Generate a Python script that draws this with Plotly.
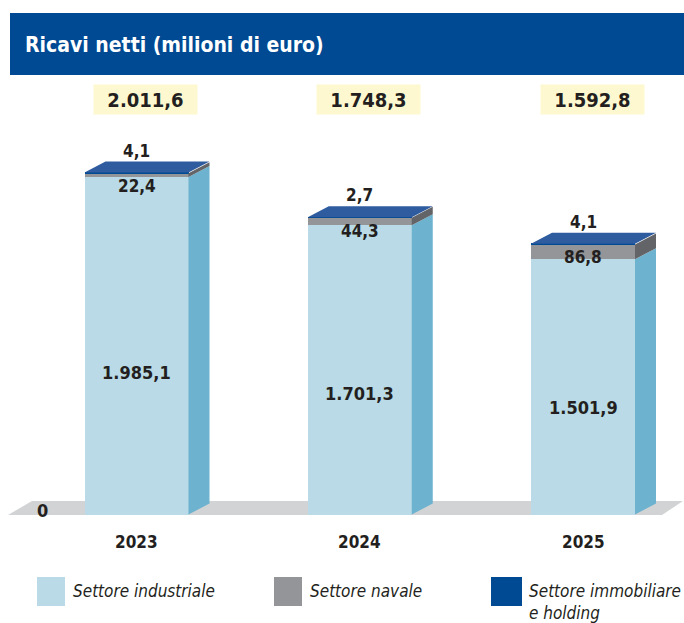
import plotly.graph_objects as go

# ---------------- data ----------------
anni = ["2023", "2024", "2025"]
industriale = [1985.1, 1701.3, 1501.9]
navale = [22.4, 44.3, 86.8]
immobiliare = [4.1, 2.7, 4.1]
totali = [2011.6, 1748.3, 1592.8]
serie_nomi = ["Settore industriale", "Settore navale", "Settore immobiliare<br>e holding"]
titolo = "Ricavi netti (milioni di euro)"

# ---------------- style ----------------
FONT = "Liberation Sans Narrow, Arial Narrow, DejaVu Sans Condensed, sans-serif"
TXT = "#231F20"
LB_FRONT, LB_SIDE = "#B9DAE6", "#6DB3CF"
GR_FRONT, GR_SIDE = "#939598", "#636467"
BL_FRONT, BL_SIDE, BL_TOP = "#004A93", "#003B7A", "#2F5C9F"
FLOOR = "#D1D3D4"
BOX = "#FEF8D0"

W, H = 684, 623
OFF = 0             # page body margin removed by post script
S = 0.17            # pixels per unit (value axis)
ZERO_F = 514.5 - OFF
XC0, XSTEP = 136.5 - OFF, 223.25
xmin, xmax = -XC0 / XSTEP, (W - XC0) / XSTEP
ymax, ymin = ZERO_F / S, -(H - ZERO_F) / S
BAR_W = 104 / XSTEP
DX = 21 / XSTEP
DY = 11 / S


def px2x(px):
    return xmin + (px - OFF) / W * (xmax - xmin)


def px2y(py):
    return ymax - (py - OFF) / H * (ymax - ymin)


def pxp(px):  # page pixel x -> paper
    return (px - OFF) / W


def pyp(py):  # page pixel y -> paper
    return 1 - (py - OFF) / H


def fmt(v):
    s = f"{v:,.1f}"
    return s.replace(",", "X").replace(".", ",").replace("X", ".")


xs = list(range(len(anni)))
fig = go.Figure()

# front faces (stacked bars)
for vals, col in [(industriale, LB_FRONT), (navale, GR_FRONT), (immobiliare, BL_FRONT)]:
    fig.add_trace(go.Bar(x=xs, y=vals, width=BAR_W, marker=dict(color=col, line=dict(width=0)),
                         showlegend=False, hoverinfo="skip"))

# side and top faces computed from data
side_x = {LB_SIDE: [], GR_SIDE: [], BL_SIDE: []}
side_y = {LB_SIDE: [], GR_SIDE: [], BL_SIDE: []}
top_x, top_y = [], []
for i in xs:
    base = 0.0
    xr = i + BAR_W / 2
    xl = i - BAR_W / 2
    for v, col in [(industriale[i], LB_SIDE), (navale[i], GR_SIDE), (immobiliare[i], BL_SIDE)]:
        b0, b1 = base, base + v
        side_x[col] += [xr, xr + DX, xr + DX, xr, xr, None]
        side_y[col] += [b0, b0 + DY, b1 + DY, b1, b0, None]
        base = b1
    top_x += [xl, xl + DX, xr + DX, xr, xl, None]
    top_y += [base, base + DY, base + DY, base, base, None]

for col in [LB_SIDE, GR_SIDE, BL_SIDE]:
    fig.add_trace(go.Scatter(x=side_x[col], y=side_y[col], mode="lines", fill="toself",
                             fillcolor=col, line=dict(width=0, color=col),
                             showlegend=False, hoverinfo="skip"))
fig.add_trace(go.Scatter(x=top_x, y=top_y, mode="lines", fill="toself", fillcolor=BL_TOP,
                         line=dict(width=0, color=BL_TOP), showlegend=False, hoverinfo="skip"))

shapes = []
# floor
fl = [(8, 515), (662, 515), (683, 501), (32, 501)]
path = "M " + " L ".join(f"{px2x(a)},{px2y(b)}" for a, b in fl) + " Z"
shapes.append(dict(type="path", path=path, xref="x", yref="y", fillcolor=FLOOR,
                   line=dict(width=0), layer="below"))
# title bar
shapes.append(dict(type="rect", xref="paper", yref="paper", x0=pxp(10), x1=pxp(700),
                   y0=pyp(75), y1=pyp(13), fillcolor=BL_FRONT, line=dict(width=0), layer="below"))

ann = []
ann.append(dict(xref="paper", yref="paper", x=pxp(23), y=pyp(45), xanchor="left", yanchor="middle",
                text=titolo, showarrow=False,
                font=dict(family=FONT, size=21, color="white", weight="bold")))

for i in xs:
    # total box
    ann.append(dict(x=i, xref="x", yref="paper", y=pyp(99), xshift=9, yanchor="middle",
                    text=fmt(totali[i]), showarrow=False, bgcolor=BOX, width=103, height=29,
                    borderpad=0, font=dict(family=FONT, size=20, color=TXT, weight="bold")))
    # top (immobiliare) label
    ann.append(dict(x=i, y=totali[i], xref="x", yref="y", yshift=22, text=fmt(immobiliare[i]),
                    showarrow=False, font=dict(family=FONT, size=17, color=TXT, weight="bold")))
    # navale label
    ann.append(dict(x=i, y=industriale[i] + navale[i], xref="x", yref="y", yanchor="top", yshift=-1,
                    text=fmt(navale[i]), showarrow=False,
                    font=dict(family=FONT, size=17, color=TXT, weight="bold")))
    # industriale label
    ann.append(dict(x=i, y=industriale[i] * 0.42, xref="x", yref="y", text=fmt(industriale[i]),
                    showarrow=False, font=dict(family=FONT, size=18, color=TXT, weight="bold")))
    # year label
    ann.append(dict(x=i, xref="x", yref="paper", y=pyp(542), yanchor="middle", text=anni[i],
                    showarrow=False, font=dict(family=FONT, size=17, color=TXT, weight="bold")))

ann.append(dict(x=px2x(42), y=0, xref="x", yref="y", yshift=4, text="0", showarrow=False,
                font=dict(family=FONT, size=18, color=TXT, weight="bold")))

# legend (custom)
leg = [(37, 65, LB_FRONT, 71), (274, 302, GR_FRONT, 308), (491, 522, BL_FRONT, 527)]
for (x0, x1, col, tx), name in zip(leg, serie_nomi):
    shapes.append(dict(type="rect", xref="paper", yref="paper", x0=pxp(x0), x1=pxp(x1),
                       y0=pyp(606), y1=pyp(577), fillcolor=col, line=dict(width=0)))
    ann.append(dict(xref="paper", yref="paper", x=pxp(tx), y=pyp(579), xanchor="left", yanchor="top",
                    text=name, showarrow=False, align="left",
                    font=dict(family=FONT, size=17, color=TXT, style="italic")))

fig.update_layout(
    width=W, height=H, margin=dict(l=0, r=0, t=0, b=0, pad=0),
    barmode="stack", bargap=0,
    paper_bgcolor="white", plot_bgcolor="white",
    xaxis=dict(range=[xmin, xmax], visible=False, fixedrange=True),
    yaxis=dict(range=[ymin, ymax], visible=False, fixedrange=True),
    shapes=shapes, annotations=ann, showlegend=False,
)

fig.write_html("out.html",
               config={"displayModeBar": False},
               post_script="document.body.style.margin='0';document.body.style.overflow='hidden';")
